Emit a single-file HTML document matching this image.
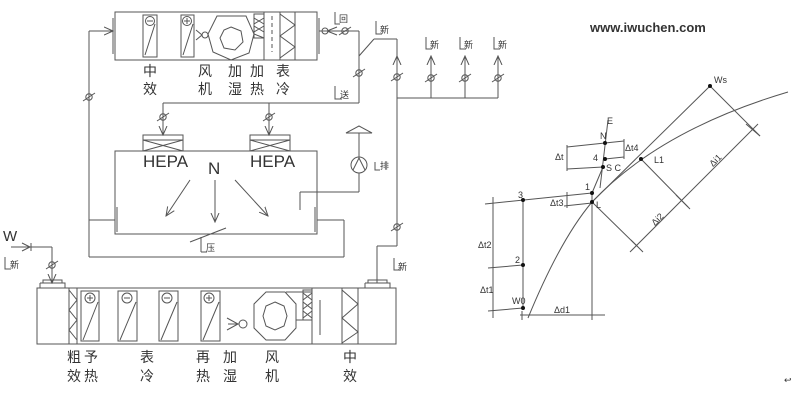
<!DOCTYPE html>
<html><head><meta charset="utf-8"><style>
html,body{margin:0;padding:0;background:#fff;}
svg{display:block;}
text{font-family:"Liberation Sans","Noto Sans CJK SC",sans-serif;fill:#333;}
.c{font-size:14px;}
.s{font-size:9px;}
</style></head><body>
<svg width="793" height="401" viewBox="0 0 793 401" xmlns="http://www.w3.org/2000/svg">
<defs>
<g id="dmp"><circle r="3.2" fill="none" stroke="#555" stroke-width="1"/><line x1="-6" y1="4" x2="6" y2="-4" stroke="#555" stroke-width="1"/></g>
<marker id="ar" markerWidth="10" markerHeight="10" refX="9" refY="5" orient="auto" markerUnits="userSpaceOnUse"><path d="M0,1 L9,5 L0,9" fill="none" stroke="#555" stroke-width="1"/></marker>
</defs>
<g stroke="#555" stroke-width="1" fill="none">
<rect x="115" y="12" width="202" height="48"/>
<line x1="113" y1="18" x2="113" y2="54"/><line x1="319" y1="18" x2="319" y2="54"/>
<rect x="143" y="15" width="14" height="42"/><circle cx="150" cy="21" r="4.5"/><line x1="147" y1="21" x2="153" y2="21"/><line x1="145" y1="55" x2="155" y2="24"/>
<rect x="181" y="15" width="13" height="42"/><circle cx="187" cy="21" r="4.5"/><line x1="184" y1="21" x2="190" y2="21"/><line x1="187" y1="18" x2="187" y2="24"/><line x1="183" y1="55" x2="193" y2="24"/>
<polygon points="217,16 246,16 254,34 249,53 231,60 213,52 208,34"/>
<polygon points="231,27 241,31 243,42 235,50 224,48 220,38 224,30"/>
<circle cx="205" cy="35" r="3"/><path d="M196,30 L202,35 L196,40"/>
<rect x="254" y="14" width="10" height="24"/><path d="M254,18 L264,24 M254,24 L264,18 M254,26 L264,32 M254,32 L264,26 M254,34 L264,38"/>
<line x1="264" y1="12" x2="264" y2="60"/><line x1="272" y1="16" x2="272" y2="52" stroke-dasharray="4,3"/>
<line x1="280" y1="12" x2="280" y2="60"/><line x1="295" y1="12" x2="295" y2="60"/>
<path d="M280,14 L295,25 L280,36 L295,47 L280,58"/>
<line x1="89" y1="31" x2="89" y2="257"/><line x1="89" y1="31" x2="113" y2="31" marker-end="url(#ar)"/>
<line x1="89" y1="220" x2="115" y2="220"/>
<line x1="89" y1="257" x2="344" y2="257"/><line x1="344" y1="257" x2="344" y2="220"/><line x1="317" y1="220" x2="344" y2="220"/>
<line x1="319" y1="31" x2="359" y2="31"/><circle cx="325" cy="31" r="3"/>
<path d="M337,27 L327,31 L337,35"/>
<line x1="359" y1="31" x2="359" y2="103"/>
<line x1="359" y1="56" x2="374" y2="39"/><line x1="374" y1="39" x2="397" y2="39"/>
<line x1="163" y1="103" x2="359" y2="103"/>
<line x1="163" y1="103" x2="163" y2="135" marker-end="url(#ar)"/><line x1="269" y1="103" x2="269" y2="135" marker-end="url(#ar)"/>
<rect x="143" y="135" width="40" height="16"/><path d="M143,140 L183,140 M143,140 L183,151 M143,151 L183,140"/>
<rect x="250" y="135" width="40" height="16"/><path d="M250,140 L290,140 M250,140 L290,151 M250,151 L290,140"/>
<rect x="115" y="151" width="202" height="83"/>
<line x1="117" y1="207" x2="117" y2="232"/><line x1="315" y1="207" x2="315" y2="232"/>
<line x1="190" y1="180" x2="166" y2="216" marker-end="url(#ar)"/>
<line x1="215" y1="180" x2="215" y2="222" marker-end="url(#ar)"/>
<line x1="235" y1="180" x2="268" y2="216" marker-end="url(#ar)"/>
<line x1="190" y1="242" x2="226" y2="228"/><line x1="201" y1="237" x2="201" y2="252"/><line x1="201" y1="252" x2="207" y2="252"/>
<circle cx="359" cy="165" r="8"/><path d="M353,170 L359,158 L365,170"/>
<line x1="359" y1="157" x2="359" y2="133"/><path d="M346,133 L359,126 L372,133 Z"/>
<line x1="359" y1="173" x2="359" y2="192"/><line x1="359" y1="192" x2="300" y2="192"/><line x1="300" y1="192" x2="300" y2="210"/>
<line x1="397" y1="39" x2="397" y2="246"/>
<line x1="397" y1="98" x2="498" y2="98"/>
<line x1="431" y1="98" x2="431" y2="56" marker-end="url(#ar)"/>
<line x1="465" y1="98" x2="465" y2="56" marker-end="url(#ar)"/>
<line x1="498" y1="98" x2="498" y2="56" marker-end="url(#ar)"/>
<line x1="397" y1="75" x2="397" y2="56" marker-end="url(#ar)"/>
<line x1="397" y1="246" x2="377" y2="246"/><line x1="377" y1="246" x2="377" y2="283"/>
<line x1="11" y1="247" x2="52" y2="247"/><line x1="31" y1="243" x2="31" y2="251"/><path d="M22,243 L30,247 L22,251"/>
<line x1="52" y1="247" x2="52" y2="283" marker-end="url(#ar)"/>
<rect x="37" y="288" width="359" height="56"/>
<path d="M40,283 L40,288 M40,283 L65,283 L65,288 M43,283 L43,280 L62,280 L62,283"/>
<path d="M365,283 L365,288 M365,283 L390,283 L390,288 M368,283 L368,280 L387,280 L387,283"/>
<line x1="69" y1="288" x2="69" y2="344"/><line x1="77" y1="288" x2="77" y2="344"/>
<path d="M69,290 L77,300 L69,310 L77,320 L69,330 L77,340"/>
<rect x="81" y="291" width="18" height="50"/><circle cx="90" cy="298" r="5"/><path d="M87,298 L93,298 M90,295 L90,301 M83,340 L98,302"/>
<rect x="118" y="291" width="19" height="50"/><circle cx="127" cy="298" r="5"/><path d="M124,298 L130,298 M120,340 L136,302"/>
<rect x="159" y="291" width="19" height="50"/><circle cx="167" cy="298" r="5"/><path d="M164,298 L170,298 M161,340 L177,302"/>
<rect x="201" y="291" width="19" height="50"/><circle cx="209" cy="298" r="5"/><path d="M206,298 L212,298 M209,295 L209,301 M203,340 L219,302"/>
<circle cx="243" cy="324" r="4"/><path d="M227,318 L238,324 L227,330 M228,324 L239,324"/>
<polygon points="266,292 285,292 296,304 296,328 285,340 266,340 254,328 254,304"/>
<polygon points="275,302 284,306 287,316 284,326 275,330 266,326 263,316 266,306"/>
<path d="M286,292 L312,292 M296,320 L312,320"/>
<rect x="303" y="290" width="9" height="30"/><path d="M303,293 L312,300 M303,300 L312,293 M303,302 L312,309 M303,309 L312,302 M303,311 L312,318 M303,318 L312,311"/>
<line x1="312" y1="288" x2="312" y2="344"/><line x1="320" y1="300" x2="320" y2="335"/>
<line x1="342" y1="288" x2="342" y2="344"/><line x1="358" y1="288" x2="358" y2="344"/>
<path d="M342,290 L358,304 L342,318 L358,332 L342,343"/>
<path d="M376,21 L376,34 L382,34"/>
<path d="M335,12 L335,24 L340,24"/>
<path d="M335,86 L335,99 L342,99"/>
<path d="M426,37 L426,49 L432,49"/><path d="M460,37 L460,49 L466,49"/><path d="M494,37 L494,49 L500,49"/>
<path d="M375,162 L375,170 L380,170"/>
<path d="M394,258 L394,270 L400,270"/>
<path d="M5,257 L5,269 L11,269"/>
<path d="M528,318 Q560,240 592,202 Q660,130 788,92"/>
<line x1="592" y1="202" x2="710" y2="86"/>
<line x1="710" y1="86" x2="760" y2="136"/>
<line x1="758" y1="124" x2="630" y2="252"/>
<line x1="592" y1="202" x2="637" y2="246"/>
<line x1="641" y1="159" x2="690" y2="209"/>
<line x1="746" y1="124" x2="760" y2="136"/><line x1="676" y1="195" x2="688" y2="207"/><line x1="631" y1="240" x2="643" y2="252"/>
<line x1="608" y1="120" x2="600" y2="188"/>
<line x1="592" y1="193" x2="603" y2="167"/>
<line x1="567" y1="147" x2="624" y2="141"/><line x1="567" y1="169" x2="603" y2="167"/><line x1="605" y1="159" x2="624" y2="157"/>
<line x1="567" y1="145" x2="567" y2="171"/><line x1="624" y1="139" x2="624" y2="159"/>
<line x1="592" y1="193" x2="592" y2="318"/>
<line x1="485" y1="204" x2="592" y2="193"/><line x1="564" y1="206" x2="592" y2="203"/>
<line x1="567" y1="192" x2="567" y2="208"/>
<line x1="523" y1="200" x2="523" y2="308"/>
<line x1="493" y1="197" x2="493" y2="318"/>
<line x1="488" y1="268" x2="523" y2="265"/><line x1="488" y1="311" x2="523" y2="308"/>
<line x1="520" y1="315" x2="605" y2="315"/><line x1="522" y1="311" x2="522" y2="320"/><line x1="592" y1="311" x2="592" y2="320"/>
</g>
<use href="#dmp" x="89" y="97"/><use href="#dmp" x="345" y="31"/><use href="#dmp" x="359" y="73"/>
<use href="#dmp" x="163" y="117"/><use href="#dmp" x="269" y="117"/>
<use href="#dmp" x="397" y="77"/><use href="#dmp" x="431" y="78"/><use href="#dmp" x="465" y="78"/><use href="#dmp" x="498" y="78"/>
<use href="#dmp" x="397" y="227"/><use href="#dmp" x="52" y="265"/>
<g fill="#111"><circle cx="710" cy="86" r="2"/><circle cx="641" cy="159" r="2"/><circle cx="605" cy="143" r="2"/><circle cx="605" cy="159" r="2"/><circle cx="603" cy="167" r="2"/><circle cx="592" cy="193" r="2"/><circle cx="592" cy="202" r="2"/><circle cx="523" cy="200" r="2"/><circle cx="523" cy="265" r="2"/><circle cx="523" cy="308" r="2"/></g>
<g class="c" text-anchor="middle">
<text x="150" y="76">中</text><text x="150" y="94">效</text>
<text x="205" y="76">风</text><text x="205" y="94">机</text>
<text x="235" y="76">加</text><text x="235" y="94">湿</text>
<text x="257" y="76">加</text><text x="257" y="94">热</text>
<text x="283" y="76">表</text><text x="283" y="94">冷</text>
<text x="74" y="362">粗</text><text x="74" y="381">效</text>
<text x="91" y="362">予</text><text x="91" y="381">热</text>
<text x="147" y="362">表</text><text x="147" y="381">冷</text>
<text x="203" y="362">再</text><text x="203" y="381">热</text>
<text x="230" y="362">加</text><text x="230" y="381">湿</text>
<text x="272" y="362">风</text><text x="272" y="381">机</text>
<text x="350" y="362">中</text><text x="350" y="381">效</text>
</g>
<g class="s">
<text x="339" y="22">回</text><text x="380" y="33">新</text><text x="340" y="98">送</text>
<text x="430" y="48">新</text><text x="464" y="48">新</text><text x="498" y="48">新</text>
<text x="380" y="169">排</text><text x="398" y="270">新</text><text x="10" y="268">新</text><text x="206" y="251">压</text>
</g>
<text x="143" y="167" font-size="17" fill="#444">HEPA</text>
<text x="250" y="167" font-size="17" fill="#444">HEPA</text>
<text x="208" y="174" font-size="17" fill="#444">N</text>
<text x="3" y="241" font-size="15" fill="#444">W</text>
<text x="590" y="32" font-size="13" font-weight="bold" font-family="Liberation Mono,monospace" fill="#111">www.iwuchen.com</text>
<g font-size="9" fill="#333">
<text x="714" y="83">Ws</text><text x="654" y="163">L1</text><text x="600" y="139">N</text><text x="593" y="161">4</text>
<text x="606" y="171">S C</text><text x="585" y="190">1</text><text x="596" y="208">L</text><text x="607" y="124">E</text>
<text x="555" y="160">Δt</text><text x="625" y="151">Δt4</text><text x="550" y="206">Δt3</text>
<text x="518" y="198">3</text><text x="515" y="263">2</text><text x="512" y="304">W0</text>
<text x="478" y="248">Δt2</text><text x="480" y="293">Δt1</text><text x="554" y="313">Δd1</text>
<text x="708" y="165" transform="rotate(-45 713 160)">Δi1</text>
<text x="650" y="224" transform="rotate(-45 655 219)">Δi2</text>
<text x="784" y="383">↩</text>
</g>
</svg>
</body></html>
